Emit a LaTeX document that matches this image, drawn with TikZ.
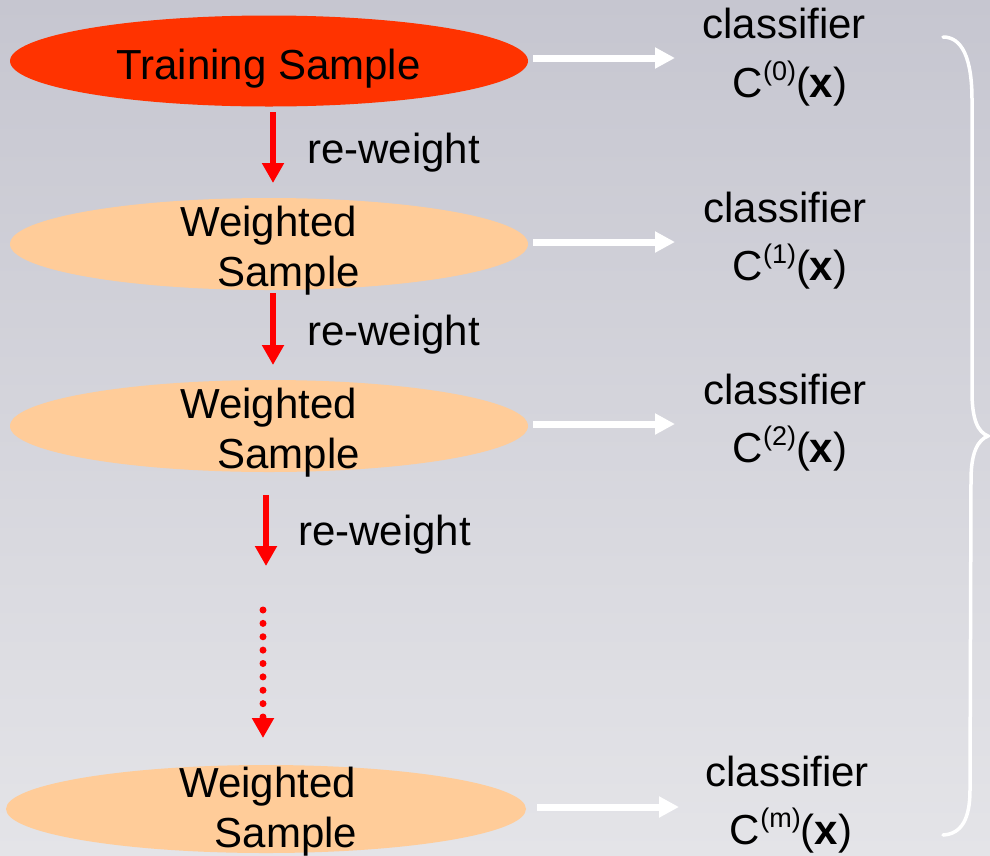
\documentclass[tikz,border=0pt]{standalone}
\usepackage{fontspec}
\setmainfont{Liberation Sans}
\usetikzlibrary{shapes.geometric,arrows.meta}

\definecolor{bgtop}{HTML}{C6C6D0}
\definecolor{bgbottom}{HTML}{E4E4E8}
\definecolor{trainfill}{HTML}{FF3300}
\definecolor{weightfill}{HTML}{FFCC99}
\definecolor{redarrow}{HTML}{FF0000}

\newcommand{\clsup}[1]{\raisebox{17pt}{\fontsize{27}{27}\selectfont(#1)}}

\begin{document}
\begin{tikzpicture}[x=1pt,y=-1pt,
  sample/.style={ellipse, draw=none, inner sep=0pt, minimum width=518pt},
  lbl/.style={font=\fontsize{42}{50}\selectfont, inner sep=0pt, anchor=base, text=black},
  rlbl/.style={lbl, anchor=base west},
  reweigh/.style={draw=redarrow, line width=6pt, -{Triangle[width=21pt,length=20pt]}},
  reweighdots/.style={reweigh, line width=7pt, line cap=round, dash pattern=on 0pt off 13.375pt},
  toclass/.style={draw=white, line width=7pt, -{Triangle[width=20pt,length=20pt]}},
  bracket/.style={draw=white, line width=3.5pt, line cap=round}]

  % background
  \shade[top color=bgtop, bottom color=bgbottom] (0,0) rectangle (990,855);
  \useasboundingbox (0,0) rectangle (990,855);

  % sample ellipses
  \node[sample, fill=trainfill, minimum height=91pt] (E0) at (269,61) {};
  \node[sample, fill=weightfill, minimum height=92pt] (E1) at (269,244) {};
  \node[sample, fill=weightfill, minimum height=92pt] (E2) at (269,426) {};
  \node[sample, fill=weightfill, minimum height=88pt, minimum width=520pt] (Em) at (266,809) {};

  % sample labels
  \node[lbl] (T0) at (268.5,79) {Training Sample};
  \node[lbl] (T1a) at (268.5,236) {Weighted};
  \node[lbl] (T1b) at (288.5,286) {Sample};
  \node[lbl] (T2a) at (268.5,418) {Weighted};
  \node[lbl] (T2b) at (288.5,468) {Sample};
  \node[lbl] (Tma) at (267.5,797) {Weighted};
  \node[lbl] (Tmb) at (286,847) {Sample};

  % classifier labels
  \node[lbl] (K0a) at (784,38) {classifier};
  \node[lbl] (K0b) at (790,97) {C\clsup{0}(\textbf{x})};
  \node[lbl] (K1a) at (785,222) {classifier};
  \node[lbl] (K1b) at (790,280) {C\clsup{1}(\textbf{x})};
  \node[lbl] (K2a) at (785,404) {classifier};
  \node[lbl] (K2b) at (790,462) {C\clsup{2}(\textbf{x})};
  \node[lbl] (Kma) at (787,786) {classifier};
  \node[lbl] (Kmb) at (791,844) {C\clsup{m}(\textbf{x})};

  % re-weighting arrows
  \coordinate (r1s) at (273,112);  \coordinate (r1e) at (273,183);
  \coordinate (r2s) at (273,293);  \coordinate (r2e) at (273,365);
  \coordinate (r3s) at (266,495);  \coordinate (r3e) at (266,566);
  \coordinate (r4s) at (263,610);  \coordinate (r4e) at (263,738);
  \draw[reweigh] (r1s) -- (r1e);
  \draw[reweigh] (r2s) -- (r2e);
  \draw[reweigh] (r3s) -- (r3e);
  \draw[reweighdots] (r4s) -- (r4e);

  \node[rlbl] (W1) at (307,163) {re-weight};
  \node[rlbl] (W2) at (307,345) {re-weight};
  \node[rlbl] (W3) at (298,545) {re-weight};

  % arrows to the classifiers
  \coordinate (c0s) at (533,58);  \coordinate (c0e) at (675,58);
  \coordinate (c1s) at (533,242); \coordinate (c1e) at (675,242);
  \coordinate (c2s) at (533,424); \coordinate (c2e) at (675,424);
  \coordinate (cms) at (537,807); \coordinate (cme) at (679,807);
  \draw[toclass] (c0s) -- (c0e);
  \draw[toclass] (c1s) -- (c1e);
  \draw[toclass] (c2s) -- (c2e);
  \draw[toclass] (cms) -- (cme);

  % curly brace grouping the classifiers
  \draw[bracket] (943,37) .. controls (962,37) and (972,58) .. (972,100)
    -- (972,392) .. controls (972,420) and (978,432) .. (988,436)
    .. controls (978,440) and (971,452) .. (971,480)
    -- (970,790) .. controls (970,818) and (962,834) .. (943,835);
\end{tikzpicture}
\end{document}
